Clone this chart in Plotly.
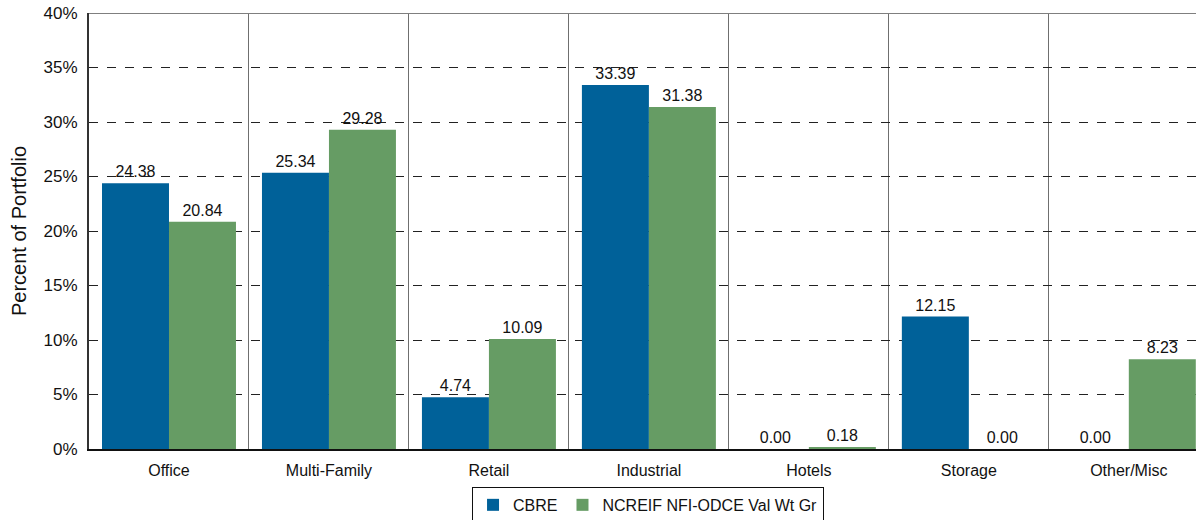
import plotly.graph_objects as go

categories = ["Office", "Multi-Family", "Retail", "Industrial", "Hotels", "Storage", "Other/Misc"]
cbre = [24.38, 25.34, 4.74, 33.39, 0.00, 12.15, 0.00]
ncreif = [20.84, 29.28, 10.09, 31.38, 0.18, 0.00, 8.23]
y_ticks = [0, 5, 10, 15, 20, 25, 30, 35, 40]
y_tick_labels = [f"{v}%" for v in y_ticks]

BLUE = "#006199"
GREEN = "#669C64"
FONT = "Liberation Sans, Arial, sans-serif"

fig = go.Figure()
fig.add_trace(go.Bar(
    x=categories, y=cbre, name="CBRE", marker=dict(color=BLUE, line=dict(width=0)),
    texttemplate="%{y:.2f}", textposition="outside", cliponaxis=False,
    textfont=dict(size=16, color="#111111", family=FONT),
))
fig.add_trace(go.Bar(
    x=categories, y=ncreif, name="NCREIF NFI-ODCE Val Wt Gr",
    marker=dict(color=GREEN, line=dict(width=0)),
    texttemplate="%{y:.2f}", textposition="outside", cliponaxis=False,
    textfont=dict(size=16, color="#111111", family=FONT),
))

# solid top border of the plot area
fig.add_shape(type="line", xref="paper", yref="y", x0=0, x1=1, y0=40, y1=40,
              line=dict(color="#7f7f7f", width=2))

fig.update_layout(
    width=1196, height=520,
    margin=dict(l=89, r=0, t=13, b=71, autoexpand=False),
    paper_bgcolor="white", plot_bgcolor="white",
    barmode="group", bargap=0.1625, bargroupgap=0,
    font=dict(family=FONT, size=16, color="#111111"),
    xaxis=dict(
        type="category", range=[-0.5, 6.42],
        tickson="boundaries", ticks="", showgrid=True,
        gridcolor="#6f6f6f", gridwidth=1,
        showline=True, linecolor="#111111", linewidth=1.5,
        tickfont=dict(size=16, color="#111111"),
        ticklabelstandoff=6,
        zeroline=False,
    ),
    yaxis=dict(
        range=[0, 40], tickvals=y_ticks, ticktext=y_tick_labels,
        showgrid=True, gridcolor="#222222", gridwidth=1, griddash="dash",
        showline=True, linecolor="#333333", linewidth=2,
        ticks="", ticklen=0,
        tickfont=dict(size=17, color="#111111"),
        ticklabelstandoff=6,
        title=dict(text="Percent of Portfolio", font=dict(size=20, color="#111111"), standoff=12),
        zeroline=False,
    ),
    legend=dict(
        orientation="h", x=0.505, xanchor="center", y=-0.087, yanchor="top",
        bordercolor="#111111", borderwidth=1, bgcolor="white",
        font=dict(size=16, color="#111111"),
        itemsizing="constant", traceorder="normal",
    ),
    showlegend=True,
)

fig.write_html("out.html")
